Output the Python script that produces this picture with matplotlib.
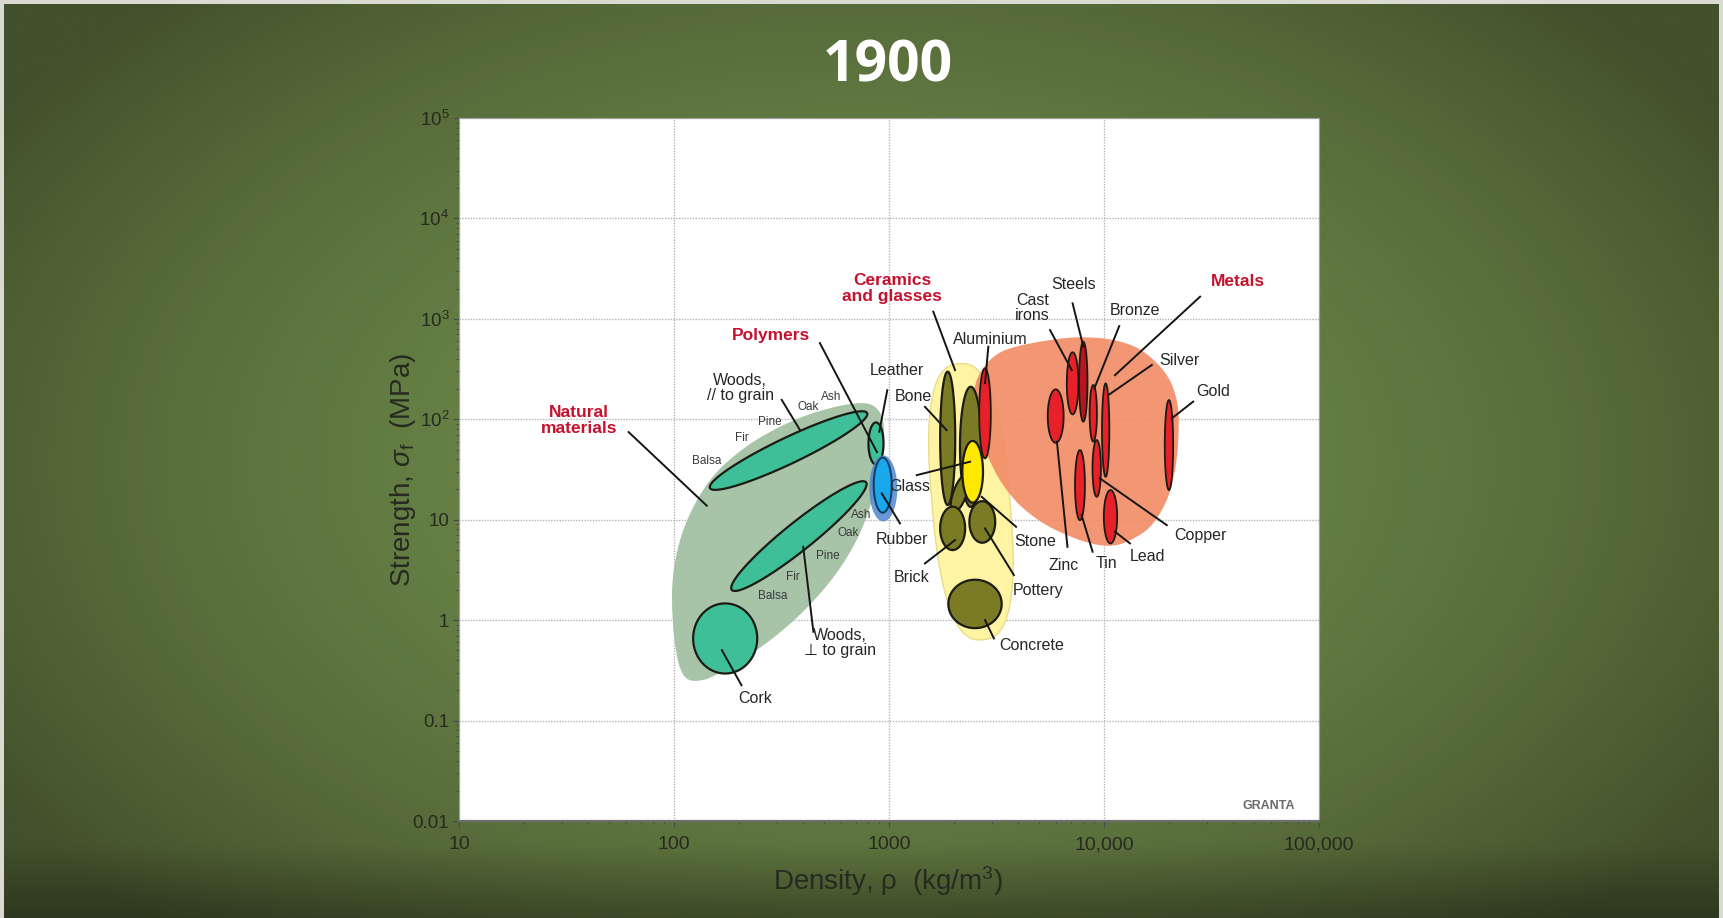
import numpy as np
import matplotlib
matplotlib.use('Agg')
import matplotlib.pyplot as plt

plt.rcParams['font.family'] = ['Liberation Sans', 'DejaVu Sans']
plt.rcParams['mathtext.fontset'] = 'custom'
plt.rcParams['mathtext.rm'] = 'Liberation Sans'
plt.rcParams['mathtext.it'] = 'Liberation Sans:italic'
plt.rcParams['mathtext.bf'] = 'Liberation Sans:bold'

# ---- material property bubbles (density kg/m3, strength MPa) ----
# half spans are in decades; tilt is the on-screen angle in degrees
natural_rho = [698, 867, 948, 914, 820, 698, 542, 378, 255, 171,
               133, 111, 101, 98, 105, 122, 154, 213, 305, 453]
natural_sig = [144, 131, 82.4, 35.2, 13.9, 5.96, 2.55, 1.09, 0.543, 0.316,
               0.251, 0.282, 0.586, 2.02, 5.52, 12.9, 27.9, 51.9, 82.4, 117]

metals_rho = [2449, 2559, 2951, 3656, 5610, 8017, 11460, 15240, 19590, 21930, 22180,
              21380, 19590, 16370, 12760, 10280, 7727, 5408, 4064, 3281, 2799, 2541]
metals_sig = [133, 245, 389, 508, 615, 655, 605, 471, 275, 144, 67,
              31.2, 15.7, 8.5, 6.04, 5.51, 6.27, 8.83, 13.96, 24.8, 49.3, 84.1]

ceramics_rho, ceramics_sig = 2404, 15.1
ceramics_dx, ceramics_dy, ceramics_tilt = 0.181, 1.379, 5

wood_names = ['Woods, // grain', 'Woods, perp. grain', 'Cork', 'Leather']
wood_rho = [341, 381, 173, 870]
wood_sig = [48.8, 6.87, 0.657, 57.5]
wood_dx = [0.405, 0.40, 0.149, 0.035]
wood_dy = [0.13, 0.14, 0.349, 0.209]
wood_tilt = [25.5, 38.7, 0, 0]

polymer_rho, polymer_sig, polymer_dx, polymer_dy = 941, 20.5, 0.065, 0.329
rubber_rho, rubber_sig, rubber_dx, rubber_dy = 935, 22.1, 0.042, 0.274

olive_names = ['Stone', 'Stone (low)', 'Bone', 'Brick', 'Pottery', 'Concrete']
olive_rho = [2400, 2138, 1875, 1977, 2716, 2512]
olive_sig = [53.2, 18.3, 64.6, 8.2, 9.5, 1.45]
olive_dx = [0.050, 0.031, 0.035, 0.058, 0.060, 0.124]
olive_dy = [0.598, 0.20, 0.664, 0.216, 0.207, 0.241]
olive_tilt = [0, -20, 0, 0, 0, 0]

glass_rho, glass_sig, glass_dx, glass_dy = 2450, 30.0, 0.048, 0.307

metal_names = ['Aluminium', 'Cast irons', 'Steels', 'Zinc', 'Bronze',
               'Silver', 'Copper', 'Tin', 'Lead', 'Gold']
metal_rho = [2796, 7145, 8010, 5960, 8913, 10180, 9250, 7730, 10720, 20050]
metal_sig = [114.6, 228, 237, 107.6, 114.6, 78, 32.4, 22.1, 10.7, 55.4]
metal_dx = [0.027, 0.027, 0.0195, 0.037, 0.017, 0.017, 0.0195, 0.023, 0.031, 0.0195]
metal_dy = [0.448, 0.309, 0.398, 0.266, 0.282, 0.465, 0.282, 0.349, 0.266, 0.448]

# ---- labels: text position and leader line (from -> to) ----
label_text = ['Woods,\n// to grain', 'Woods,\n\u22a5 to grain', 'Cork', 'Leather', 'Bone',
              'Glass', 'Rubber', 'Brick', 'Stone', 'Pottery', 'Concrete', 'Aluminium',
              'Steels', 'Cast\nirons', 'Bronze', 'Silver', 'Gold', 'Copper', 'Lead',
              'Tin', 'Zinc']
label_rho = [203, 592, 238, 1087, 1298, 1253, 1146, 1276, 4775, 4946, 4613, 2951,
             7196, 4645, 13930, 22540, 32210, 27990, 15970, 10300, 6470]
label_sig = [204, 0.586, 0.166, 304, 167, 21.6, 6.38, 2.66, 6.04, 1.99, 0.564, 625,
             2222, 1282, 1225, 389, 188, 7.03, 4.28, 3.67, 3.53]
lead_from_rho = [317, 445, 206, 982, 1470, 1346, 1125, 1470, 3900, 3811, 3076, 2897,
                 7145, 5610, 11770, 16680, 26000, 19590, 13210, 8850, 6760]
lead_from_sig = [156, 0.766, 0.225, 195, 133, 27.8, 9.2, 3.67, 8.5, 2.81, 0.657, 528,
                 1426, 773, 847, 347, 150, 8.83, 5.81, 4.80, 5.37]
lead_to_rho = [385, 399, 167, 901, 1853, 2383, 925, 2028, 2698, 2797, 2797, 2797,
               8017, 7080, 9016, 10470, 20650, 9572, 11250, 7870, 6040]
lead_to_sig = [78.5, 5.38, 0.502, 75.2, 78, 37.8, 18.3, 6.27, 16.9, 8.18, 1.0, 229,
               528, 309, 203, 174, 102, 25.8, 7.59, 11.1, 59.8]

family_text = ['Natural\nmaterials', 'Polymers', 'Ceramics\nand glasses', 'Metals']
family_rho = [36.2, 284, 1033, 42170]
family_sig = [96.6, 690, 2005, 2344]
family_from_rho = [61.5, 477, 1607, 27990]
family_from_sig = [74.6, 574, 1178, 1663]
family_to_rho = [142, 879, 2028, 11250]
family_to_sig = [13.8, 47.1, 309, 275]

species = ['Balsa', 'Fir', 'Pine', 'Oak', 'Ash']
species_upper_rho = [142, 206, 280, 421, 541]
species_upper_sig = [38.4, 64.6, 94.4, 133, 168]
species_lower_rho = [288, 356, 522, 647, 746]
species_lower_sig = [1.75, 2.70, 4.33, 7.41, 11.1]

x_ticks = [10, 100, 1000, 10000, 100000]
x_ticklabels = ['10', '100', '1000', '10,000', '100,000']
y_ticks = [0.01, 0.1, 1, 10, 100, 1000, 10000, 100000]
y_ticklabels = ['0.01', '0.1', '1', '10', '$10^2$', '$10^3$', '$10^4$', '$10^5$']

W, H = 1723, 918
fig = plt.figure(figsize=(W / 100, H / 100), dpi=100, facecolor='#d9dbd2')

# green slide background with a dark vignette
bg = fig.add_axes([4 / W, 0, 1 - 8 / W, 1 - 4 / H], zorder=0)
yy, xx = np.mgrid[0:1:460j, 0:1:860j]
r = np.sqrt(((xx - 0.5) / 0.6) ** 2 + ((yy - 0.5) / 0.7) ** 2)
w = np.clip(r, 0, 1) ** 2.0
mid = np.array([108, 136, 73]) / 255
edge = np.array([66, 80, 43]) / 255
img = mid * (1 - w[..., None]) + edge * w[..., None]
band = np.clip((yy - 0.92) / 0.08, 0, 1)
img = img * (1 - 0.3 * band[..., None])
bg.imshow(img, extent=[0, 1, 0, 1], aspect='auto', origin='upper')
bg.set_axis_off()

ax = fig.add_axes([459 / W, 1 - 821 / H, 860 / W, 703 / H], zorder=1)
ax.set_xscale('log')
ax.set_yscale('log')
ax.set_xlim(10, 100000)
ax.set_ylim(0.01, 100000)
ax.set_facecolor('white')

bb = ax.get_window_extent()
PX = bb.width / 4.0   # pixels per decade of density
PY = bb.height / 7.0  # pixels per decade of strength


def oval(rho, sig, dx, dy, tilt=0, power=2.0, n=300):
    t = np.linspace(0, 2 * np.pi, n)
    c, s = np.cos(t), np.sin(t)
    u = np.sign(c) * np.abs(c) ** (2 / power) * dx * PX
    v = np.sign(s) * np.abs(s) ** (2 / power) * dy * PY
    th = np.radians(tilt)
    x = u * np.cos(th) - v * np.sin(th)
    y = u * np.sin(th) + v * np.cos(th)
    return rho * 10 ** (x / PX), sig * 10 ** (y / PY)


def blob(rho, sig, n=20):
    # closed Catmull-Rom curve through the outline points (log space)
    P = np.column_stack([np.log10(rho), np.log10(sig)])
    m = len(P)
    t = np.linspace(0, 1, n, endpoint=False)[:, None]
    out = []
    for i in range(m):
        p0, p1, p2, p3 = P[i - 1], P[i], P[(i + 1) % m], P[(i + 2) % m]
        out.append(0.5 * (2 * p1 + (-p0 + p2) * t + (2 * p0 - 5 * p1 + 4 * p2 - p3) * t ** 2
                          + (-p0 + 3 * p1 - 3 * p2 + p3) * t ** 3))
    out = np.vstack(out)
    return 10 ** out[:, 0], 10 ** out[:, 1]


ax.grid(True, which='major', color='#b4b4b4', linestyle=(0, (1, 1)), linewidth=1.0)
ax.set_axisbelow(True)

outline = '#1c1c14'

# envelopes
x, y = blob(natural_rho, natural_sig)
ax.fill(x, y, facecolor='#a7c4a8', edgecolor='none', zorder=2)
x, y = oval(ceramics_rho, ceramics_sig, ceramics_dx, ceramics_dy, ceramics_tilt, power=2.6)
ax.fill(x, y, facecolor='#fff4a3', edgecolor='#e9dc8a', lw=1, zorder=2)
x, y = blob(metals_rho, metals_sig)
ax.fill(x, y, facecolor='#f28e68', edgecolor='none', alpha=0.93, zorder=2.1)

# natural materials
for i in range(len(wood_names)):
    x, y = oval(wood_rho[i], wood_sig[i], wood_dx[i], wood_dy[i], wood_tilt[i])
    ax.fill(x, y, facecolor='#3ebf98', edgecolor=outline, lw=1.6, zorder=3)

# polymers
x, y = oval(polymer_rho, polymer_sig, polymer_dx, polymer_dy)
ax.fill(x, y, facecolor='#4f86cf', edgecolor='none', alpha=0.85, zorder=3.2)
x, y = oval(rubber_rho, rubber_sig, rubber_dx, rubber_dy)
ax.fill(x, y, facecolor='#19a8ec', edgecolor='#123a66', lw=1.4, zorder=3.3)

# ceramics
for i in range(len(olive_names)):
    x, y = oval(olive_rho[i], olive_sig[i], olive_dx[i], olive_dy[i], olive_tilt[i])
    z = 3.6 if olive_names[i] in ('Brick', 'Pottery') else 3.4
    ax.fill(x, y, facecolor='#7b7b25', edgecolor=outline, lw=1.6, zorder=z)
x, y = oval(glass_rho, glass_sig, glass_dx, glass_dy)
ax.fill(x, y, facecolor='#ffe800', edgecolor=outline, lw=1.6, zorder=3.5)

# metals
for i in range(len(metal_names)):
    x, y = oval(metal_rho[i], metal_sig[i], metal_dx[i], metal_dy[i])
    fc = '#b8141f' if metal_names[i] == 'Steels' else '#e8202a'
    ax.fill(x, y, facecolor=fc, edgecolor=outline, lw=1.3, zorder=3.4)

# leader lines and labels
for i in range(len(label_text)):
    ax.plot([lead_from_rho[i], lead_to_rho[i]], [lead_from_sig[i], lead_to_sig[i]],
            color='#151515', lw=1.4, zorder=5)
    ax.text(label_rho[i], label_sig[i], label_text[i], ha='center', va='center',
            fontsize=11.5, color='#262626', linespacing=1.0, zorder=6)

for i in range(len(family_text)):
    ax.plot([family_from_rho[i], family_to_rho[i]], [family_from_sig[i], family_to_sig[i]],
            color='#151515', lw=1.4, zorder=5)
    ax.text(family_rho[i], family_sig[i], family_text[i], ha='center', va='center',
            fontsize=12.5, fontweight='bold', color='#c4122f', linespacing=1.05, zorder=6)

for i in range(len(species)):
    ax.text(species_upper_rho[i], species_upper_sig[i], species[i], ha='center',
            va='center', fontsize=8.5, color='#3a3a3a', zorder=6)
    ax.text(species_lower_rho[i], species_lower_sig[i], species[i], ha='center',
            va='center', fontsize=8.5, color='#3a3a3a', zorder=6)

ax.text(0.942, 0.021, 'GRANTA', transform=ax.transAxes, ha='center', va='center',
        fontsize=9, fontweight='bold', color='#6a6a6a', zorder=6)

# axes styling
ax.set_xticks(x_ticks)
ax.set_xticklabels(x_ticklabels)
ax.set_yticks(y_ticks)
ax.set_yticklabels(y_ticklabels)
ax.tick_params(which='major', direction='out', length=4, width=0.9, color='#4a4a4a',
               labelsize=14, labelcolor='#262a20')
ax.tick_params(which='minor', direction='out', length=2.5, width=0.8, color='#4a4a4a')
ax.tick_params(axis='x', which='major', pad=7)
ax.tick_params(axis='y', which='major', pad=3, labelsize=13.5)
for side in ('top', 'right', 'left'):
    ax.spines[side].set_color('#a0a0a0')
    ax.spines[side].set_linewidth(0.8)
ax.spines['bottom'].set_color('#6e6e6e')
ax.spines['bottom'].set_linewidth(1.6)

ax.set_xlabel('Density, \u03c1  (kg/m$^3$)', fontsize=20, color='#262a20')
ax.set_ylabel('Strength, $\\sigma_{\\rm f}$  (MPa)', fontsize=20, color='#262a20')
ax.xaxis.set_label_coords(0.499, -0.061)
ax.yaxis.set_label_coords(-0.048, 0.5)

fig.text(888 / W, 1 - 67 / H, '1900', ha='center', va='center', color='white',
         fontsize=41, fontweight='bold', family='Open Sans')

fig.savefig('out.png', dpi=100, facecolor=fig.get_facecolor())
